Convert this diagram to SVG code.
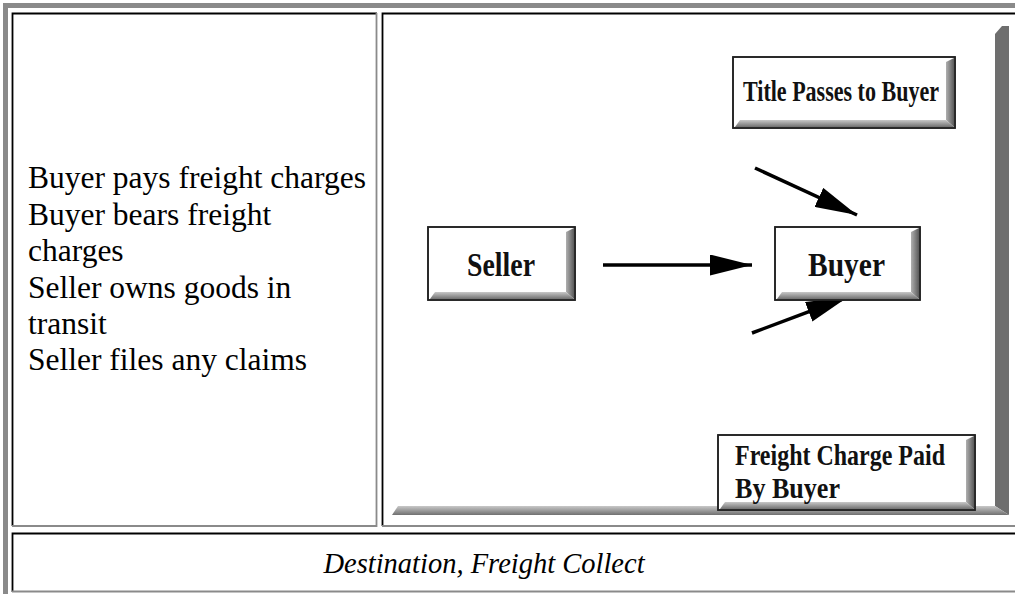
<svg xmlns="http://www.w3.org/2000/svg" width="1015" height="594" viewBox="0 0 1015 594">
<defs>
<style>
.body{font-family:"Liberation Serif","Times New Roman",serif;font-size:31.5px;fill:#000}
.cap{font-family:"Liberation Serif","Times New Roman",serif;font-size:28.5px;font-style:italic;fill:#000}
.lbl{font-family:"Liberation Serif","DejaVu Serif",serif;font-weight:bold;fill:#111}
.box{fill:#fff;stroke:#222;stroke-width:1.6}
.conn{stroke:#000;stroke-width:3.5;fill:none}
</style>
<linearGradient id="rg" x1="0" y1="0" x2="1" y2="0"><stop offset="0" stop-color="#b0b0b0"/><stop offset="1" stop-color="#5a5a5a"/></linearGradient>
<linearGradient id="bg" x1="0" y1="0" x2="0" y2="1"><stop offset="0" stop-color="#c8c8c8"/><stop offset="1" stop-color="#707070"/></linearGradient>
<marker id="ah" viewBox="0 0 12 6" refX="12" refY="3" markerWidth="12" markerHeight="6" markerUnits="strokeWidth" orient="auto"><path d="M0,0 L12,3 L0,6 z" fill="#000"/></marker>
</defs>
<rect x="0" y="0" width="1015" height="594" fill="#fff"/>
<g id="table">
<rect x="3" y="3" width="1020" height="5" fill="#8a8a8a"/>
<rect x="3" y="3" width="5" height="600" fill="#8a8a8a"/>
<path d="M12.5,526 V13.5 H377" stroke="#000" stroke-width="1.8" fill="none"/>
<path d="M12,526 H376.5 V13" stroke="#8a8a8a" stroke-width="1.8" fill="none"/>
<path d="M382.5,526 V13.5 H1020" stroke="#000" stroke-width="1.8" fill="none"/>
<path d="M382,526 H1020" stroke="#8a8a8a" stroke-width="1.8" fill="none"/>
<path d="M12.5,592 V533.5 H1020" stroke="#000" stroke-width="1.8" fill="none"/>
<path d="M12,591.5 H1020" stroke="#8a8a8a" stroke-width="1.8" fill="none"/>
</g>
<g id="left-text">
<text class="body" x="28" y="188">Buyer pays freight charges</text>
<text class="body" x="28" y="225">Buyer bears freight</text>
<text class="body" x="28" y="261">charges</text>
<text class="body" x="28" y="298">Seller owns goods in</text>
<text class="body" x="28" y="334">transit</text>
<text class="body" x="28" y="370">Seller files any claims</text>
</g>
<g id="caption">
<text class="cap" x="484" y="573" text-anchor="middle">Destination, Freight Collect</text>
</g>
<g id="frame">
<polygon points="995,34 1002,26 1009,26 1009,515 995,506" fill="#6e6e6e"/>
<polygon points="392,515 398,506 995,506 1009,515" fill="url(#bg)"/>
</g>
<g id="connectors">
<line class="conn" x1="603" y1="265" x2="752" y2="265" marker-end="url(#ah)"/>
<line class="conn" x1="755" y1="168" x2="857" y2="215" marker-end="url(#ah)"/>
<line class="conn" x1="752" y1="333" x2="848" y2="297" marker-end="url(#ah)"/>
</g>
<g id="title-box">
<rect class="box" x="733" y="57" width="222" height="71"/>
<polygon points="946,62 954,58 954,127 946,120" fill="url(#rg)"/>
<polygon points="735,127 740,120 946,120 954,127" fill="url(#bg)"/>
<rect x="733" y="57" width="222" height="71" fill="none" stroke="#222" stroke-width="1.6"/>
<text class="lbl" x="743" y="101" font-size="30" textLength="196" lengthAdjust="spacingAndGlyphs">Title Passes to Buyer</text>
</g>
<g id="seller">
<rect class="box" x="428" y="227" width="147" height="73"/>
<polygon points="566,232 574,228 574,299 566,292" fill="url(#rg)"/>
<polygon points="430,299 435,292 566,292 574,299" fill="url(#bg)"/>
<rect x="428" y="227" width="147" height="73" fill="none" stroke="#222" stroke-width="1.6"/>
<text class="lbl" x="467" y="276" font-size="34" textLength="68" lengthAdjust="spacingAndGlyphs">Seller</text>
</g>
<g id="buyer">
<rect class="box" x="775" y="227" width="145" height="73"/>
<polygon points="911,232 919,228 919,299 911,292" fill="url(#rg)"/>
<polygon points="777,299 782,292 911,292 919,299" fill="url(#bg)"/>
<rect x="775" y="227" width="145" height="73" fill="none" stroke="#222" stroke-width="1.6"/>
<text class="lbl" x="808" y="276" font-size="34" textLength="77" lengthAdjust="spacingAndGlyphs">Buyer</text>
</g>
<g id="freight-box">
<rect class="box" x="718" y="435" width="257" height="75"/>
<polygon points="966,440 974,436 974,509 966,502" fill="url(#rg)"/>
<polygon points="720,509 725,502 966,502 974,509" fill="url(#bg)"/>
<rect x="718" y="435" width="257" height="75" fill="none" stroke="#222" stroke-width="1.6"/>
<text class="lbl" x="735" y="465" font-size="30" textLength="210" lengthAdjust="spacingAndGlyphs">Freight Charge Paid</text>
<text class="lbl" x="735" y="498" font-size="30" textLength="105" lengthAdjust="spacingAndGlyphs">By Buyer</text>
</g>
</svg>
